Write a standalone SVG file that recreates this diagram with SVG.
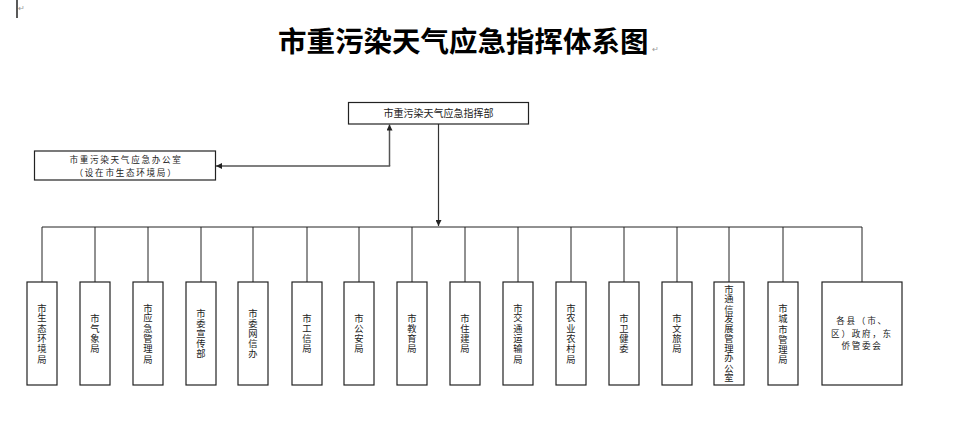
<svg xmlns="http://www.w3.org/2000/svg" width="971" height="446" viewBox="0 0 971 446">
<style>
  text { font-family: "Noto Sans CJK SC", "Noto Sans", sans-serif; fill: #222; }
  .title { font-size: 28.5px; font-weight: bold; fill: #000; }
  .lbl { font-size: 10px; }
  .ml { font-size: 8.6px; letter-spacing: 1.7px; }
  .v { font-size: 9.3px; text-anchor: middle; writing-mode: vertical-rl; }
  .c { text-anchor: middle; }
  .box { fill: #fff; stroke: #222; stroke-width: 1.2; }
  .ln { fill: none; stroke: #222; stroke-width: 1; }
  .arr { fill: none; stroke: #555; stroke-width: 1.5; }
  .pm { font-size: 8px; fill: #999; }
</style>
<defs>
  <marker id="ah" viewBox="0 0 10 10" refX="10" refY="5" markerWidth="6" markerHeight="6" markerUnits="userSpaceOnUse" orient="auto">
    <path d="M0,0 L10,5 L0,10 z" fill="#222"/>
  </marker>
</defs>
<rect width="971" height="446" fill="#fff"/>
<line x1="17" y1="0" x2="17" y2="18" stroke="#000" stroke-width="1.3"/>
<text class="pm" x="17.5" y="11">↵</text>
<text class="title" x="278" y="52">市重污染天气应急指挥体系图</text>
<text class="pm" x="652" y="52">↵</text>

<g id="connectors">
  <line class="arr" x1="438.5" y1="124" x2="438.5" y2="226" marker-end="url(#ah)" style="stroke:#333;stroke-width:1.2"/>
  <line class="arr" x1="389.5" y1="166" x2="389.5" y2="124.5" marker-end="url(#ah)"/>
  <line class="arr" x1="390.2" y1="166" x2="216" y2="166" marker-end="url(#ah)"/>
  <polyline class="ln" points="42,282 42,227 862,227 862,282"/>
  <line class="ln" x1="95" y1="227" x2="95" y2="282"/>
  <line class="ln" x1="148" y1="227" x2="148" y2="282"/>
  <line class="ln" x1="201" y1="227" x2="201" y2="282"/>
  <line class="ln" x1="253" y1="227" x2="253" y2="282"/>
  <line class="ln" x1="307" y1="227" x2="307" y2="282"/>
  <line class="ln" x1="359" y1="227" x2="359" y2="282"/>
  <line class="ln" x1="412" y1="227" x2="412" y2="282"/>
  <line class="ln" x1="465" y1="227" x2="465" y2="282"/>
  <line class="ln" x1="518" y1="227" x2="518" y2="282"/>
  <line class="ln" x1="571" y1="227" x2="571" y2="282"/>
  <line class="ln" x1="624" y1="227" x2="624" y2="282"/>
  <line class="ln" x1="677" y1="227" x2="677" y2="282"/>
  <line class="ln" x1="729" y1="227" x2="729" y2="282"/>
  <line class="ln" x1="783" y1="227" x2="783" y2="282"/>
</g>

<g id="hq">
  <rect class="box" x="348.5" y="102.5" width="180" height="21.5"/>
  <text class="lbl c" x="438.5" y="117">市重污染天气应急指挥部</text>
</g>
<g id="office">
  <rect class="box" x="34.5" y="151" width="181" height="29"/>
  <text class="ml c" x="126" y="163.3"><tspan x="126">市重污染天气应急办公室</tspan><tspan x="126" dy="12.5">（设在市生态环境局）</tspan></text>
</g>

<g id="n1"><rect class="box" x="27" y="282" width="30" height="103"/>
<text class="v"><tspan x="42" y="308">市</tspan><tspan x="42" y="318.2">生</tspan><tspan x="42" y="328.4">态</tspan><tspan x="42" y="338.6">环</tspan><tspan x="42" y="348.8">境</tspan><tspan x="42" y="359">局</tspan></text></g>
<g id="n2"><rect class="box" x="80" y="282" width="30" height="103"/>
<text class="v"><tspan x="95" y="318.2">市</tspan><tspan x="95" y="328.4">气</tspan><tspan x="95" y="338.6">象</tspan><tspan x="95" y="348.8">局</tspan></text></g>
<g id="n3"><rect class="box" x="133" y="282" width="30" height="103"/>
<text class="v"><tspan x="148" y="308">市</tspan><tspan x="148" y="318.2">应</tspan><tspan x="148" y="328.4">急</tspan><tspan x="148" y="338.6">管</tspan><tspan x="148" y="348.8">理</tspan><tspan x="148" y="359">局</tspan></text></g>
<g id="n4"><rect class="box" x="186" y="282" width="30" height="103"/>
<text class="v"><tspan x="201" y="313.1">市</tspan><tspan x="201" y="323.3">委</tspan><tspan x="201" y="333.5">宣</tspan><tspan x="201" y="343.7">传</tspan><tspan x="201" y="353.9">部</tspan></text></g>
<g id="n5"><rect class="box" x="238" y="282" width="30" height="103"/>
<text class="v"><tspan x="253" y="313.1">市</tspan><tspan x="253" y="323.3">委</tspan><tspan x="253" y="333.5">网</tspan><tspan x="253" y="343.7">信</tspan><tspan x="253" y="353.9">办</tspan></text></g>
<g id="n6"><rect class="box" x="292" y="282" width="30" height="103"/>
<text class="v"><tspan x="307" y="318.2">市</tspan><tspan x="307" y="328.4">工</tspan><tspan x="307" y="338.6">信</tspan><tspan x="307" y="348.8">局</tspan></text></g>
<g id="n7"><rect class="box" x="344" y="282" width="30" height="103"/>
<text class="v"><tspan x="359" y="318.2">市</tspan><tspan x="359" y="328.4">公</tspan><tspan x="359" y="338.6">安</tspan><tspan x="359" y="348.8">局</tspan></text></g>
<g id="n8"><rect class="box" x="397" y="282" width="30" height="103"/>
<text class="v"><tspan x="412" y="318.2">市</tspan><tspan x="412" y="328.4">教</tspan><tspan x="412" y="338.6">育</tspan><tspan x="412" y="348.8">局</tspan></text></g>
<g id="n9"><rect class="box" x="450" y="282" width="30" height="103"/>
<text class="v"><tspan x="465" y="318.2">市</tspan><tspan x="465" y="328.4">住</tspan><tspan x="465" y="338.6">建</tspan><tspan x="465" y="348.8">局</tspan></text></g>
<g id="n10"><rect class="box" x="503" y="282" width="30" height="103"/>
<text class="v"><tspan x="518" y="308">市</tspan><tspan x="518" y="318.2">交</tspan><tspan x="518" y="328.4">通</tspan><tspan x="518" y="338.6">运</tspan><tspan x="518" y="348.8">输</tspan><tspan x="518" y="359">局</tspan></text></g>
<g id="n11"><rect class="box" x="556" y="282" width="30" height="103"/>
<text class="v"><tspan x="571" y="308">市</tspan><tspan x="571" y="318.2">农</tspan><tspan x="571" y="328.4">业</tspan><tspan x="571" y="338.6">农</tspan><tspan x="571" y="348.8">村</tspan><tspan x="571" y="359">局</tspan></text></g>
<g id="n12"><rect class="box" x="609" y="282" width="30" height="103"/>
<text class="v"><tspan x="624" y="318.2">市</tspan><tspan x="624" y="328.4">卫</tspan><tspan x="624" y="338.6">健</tspan><tspan x="624" y="348.8">委</tspan></text></g>
<g id="n13"><rect class="box" x="662" y="282" width="30" height="103"/>
<text class="v"><tspan x="677" y="318.2">市</tspan><tspan x="677" y="328.4">文</tspan><tspan x="677" y="338.6">旅</tspan><tspan x="677" y="348.8">局</tspan></text></g>
<g id="n14"><rect class="box" x="714" y="282" width="30" height="103"/>
<text class="v"><tspan x="729" y="289.4">市</tspan><tspan x="729" y="299.2">通</tspan><tspan x="729" y="309">信</tspan><tspan x="729" y="318.8">发</tspan><tspan x="729" y="328.6">展</tspan><tspan x="729" y="338.4">管</tspan><tspan x="729" y="348.2">理</tspan><tspan x="729" y="358">办</tspan><tspan x="729" y="367.8">公</tspan><tspan x="729" y="377.6">室</tspan></text></g>
<g id="n15"><rect class="box" x="768" y="282" width="30" height="103"/>
<text class="v"><tspan x="783" y="308.5">市</tspan><tspan x="783" y="318.7">城</tspan><tspan x="783" y="328.9">市</tspan><tspan x="783" y="339.1">管</tspan><tspan x="783" y="349.3">理</tspan><tspan x="783" y="359.5">局</tspan></text></g>
<g id="n16"><rect class="box" x="822" y="282" width="80" height="103"/>
<text class="ml c" x="862" y="324.3"><tspan x="862">各县（市、</tspan><tspan x="862" dy="12.5">区）政府，东</tspan><tspan x="862" dy="12.5">侨管委会</tspan></text></g>
</svg>
